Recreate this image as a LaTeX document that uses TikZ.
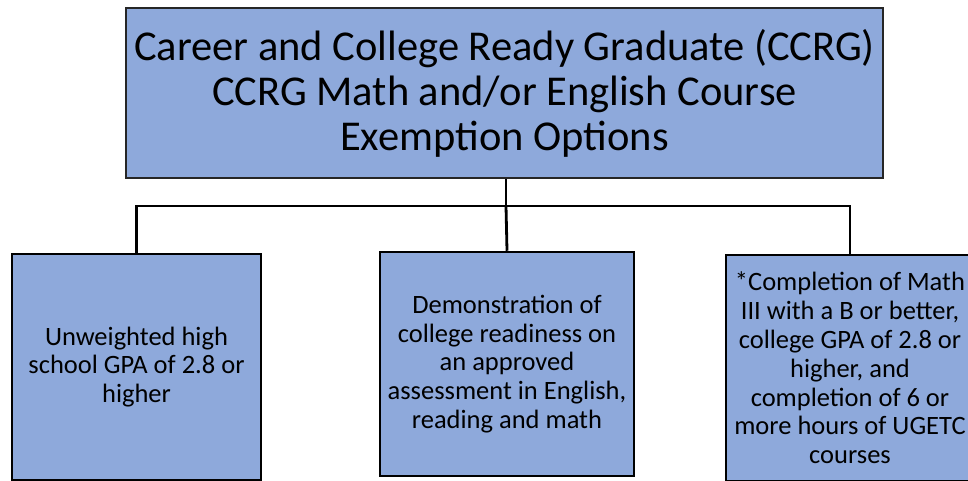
\documentclass[tikz,border=0pt]{standalone}
\usepackage{fontspec}
\setmainfont{Carlito}
\definecolor{boxblue}{HTML}{8EA9DB}
\tikzset{
  topbox/.style={draw=black!85, line width=2pt, fill=boxblue, minimum width=757pt, minimum height=170pt, align=center, inner sep=0pt, font=\fontsize{42.5}{45}\selectfont},
  optbox/.style={draw=black, line width=2.5pt, fill=boxblue, align=center, inner sep=0pt, font=\fontsize{26.5}{28.8}\selectfont},
  conn/.style={draw=black, line width=2.8pt}
}
\begin{document}
\begin{tikzpicture}[x=1pt,y=-1pt]
\useasboundingbox (0,0) rectangle (968,481);
\clip (0,0) rectangle (968,481);
\node[topbox] (top) at (504.5,93) {Career and College Ready Graduate (CCRG)\\CCRG Math and/or English Course\\Exemption Options};
\node[optbox, minimum width=249pt, minimum height=226pt] (l) at (136.5,367) {Unweighted high\\school GPA of 2.8 or\\higher};
\node[optbox, minimum width=254pt, minimum height=224pt] (m) at (507,364) {Demonstration of\\college readiness on\\an approved\\assessment in English,\\reading and math};
\node[optbox, minimum width=248pt, minimum height=226pt] (r) at (850,368) {*Completion of Math\\III with a B or better,\\college GPA of 2.8 or\\higher, and\\completion of 6 or\\more hours of UGETC\\courses};
\coordinate (j) at (506,206);
\draw[conn] (top.south -| j) -- (j);
\draw[conn] (l.north) |- (j) -| (r.north);
\draw[conn] (j) -- (m.north);
\end{tikzpicture}
\end{document}
